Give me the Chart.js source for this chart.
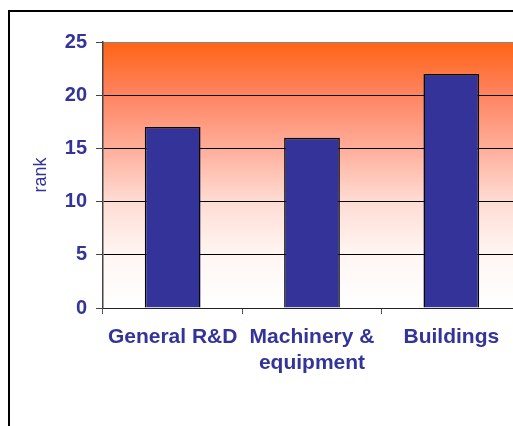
<!DOCTYPE html>
<html>
<head>
<meta charset="utf-8">
<script src="https://cdn.jsdelivr.net/npm/chart.js@4.4.0/dist/chart.umd.min.js"></script>
<style>
  html, body { margin: 0; padding: 0; background: #fff; overflow: hidden; width: 513px; height: 426px; }
  #frame { position: absolute; left: 8px; top: 10px; width: 700px; height: 600px; border: 2px solid #000; box-sizing: border-box; }
  #chart { position: absolute; left: 0; top: 0; }
</style>
</head>
<body>
<div id="frame"></div>
<canvas id="chart" width="540" height="426"></canvas>
<script>
const categories = [["General R&D"], ["Machinery &", "equipment"], ["Buildings"]];
const ranks = [17, 16, 22];
const yTicks = [0, 5, 10, 15, 20, 25];

const blue = "#333399";

// orange-to-white fill behind the bars
const plotFill = {
  id: "plotFill",
  beforeDraw(chart) {
    const { ctx, chartArea: a } = chart;
    const g = ctx.createLinearGradient(0, a.top, 0, a.bottom);
    g.addColorStop(0, "#FF6414");
    g.addColorStop(0.2, "#FF8462");
    g.addColorStop(0.4, "#FFAE9A");
    g.addColorStop(0.6, "#FFDCD3");
    g.addColorStop(0.8, "#FFF6F3");
    g.addColorStop(1, "#FFFFFF");
    ctx.save();
    ctx.fillStyle = g;
    ctx.fillRect(a.left, a.top, a.right - a.left, a.bottom - a.top);
    ctx.restore();
  },
};

new Chart(document.getElementById("chart"), {
  type: "bar",
  data: {
    labels: categories,
    datasets: [
      {
        data: ranks,
        label: "rank",
        backgroundColor: blue,
        borderColor: "#000",
        borderWidth: 1.5,
        barPercentage: 0.4,
        categoryPercentage: 1,
      },
    ],
  },
  options: {
    responsive: false,
    animation: false,
    devicePixelRatio: 1,
    layout: { padding: { left: 10, top: 42, right: 19, bottom: 0 } },
    plugins: {
      legend: { display: false },
      tooltip: { enabled: false },
    },
    scales: {
      x: {
        offset: true,
        grid: {
          display: true,
          offset: true,
          drawOnChartArea: false,
          tickLength: 6,
          tickColor: "#555",
        },
        border: { color: "#222", width: 1 },
        ticks: {
          color: blue,
          font: { family: "Arial, 'Liberation Sans'", size: 21, weight: "bold", lineHeight: 1.2 },
          padding: 11,
          maxRotation: 0,
          autoSkip: false,
        },
        afterFit(scale) {
          scale.height = 118;
        },
      },
      y: {
        min: 0,
        max: 25,
        afterBuildTicks(scale) {
          scale.ticks = yTicks.map((v) => ({ value: v }));
        },
        grid: {
          color: (c) => (c.tick && c.tick.value === 25 ? "#888" : "#000"),
          tickLength: 7,
          tickColor: "#444",
        },
        border: { color: "#444", width: 1.5 },
        ticks: {
          color: blue,
          font: { family: "Arial, 'Liberation Sans'", size: 20, weight: "bold" },
          padding: 9,
        },
        title: {
          display: true,
          text: "rank",
          color: blue,
          font: { family: "Arial, 'Liberation Sans'", size: 18 },
          padding: { top: 20, bottom: 0 },
        },
        afterFit(scale) {
          scale.width = 93;
        },
      },
    },
  },
  plugins: [plotFill],
});
</script>
</body>
</html>
